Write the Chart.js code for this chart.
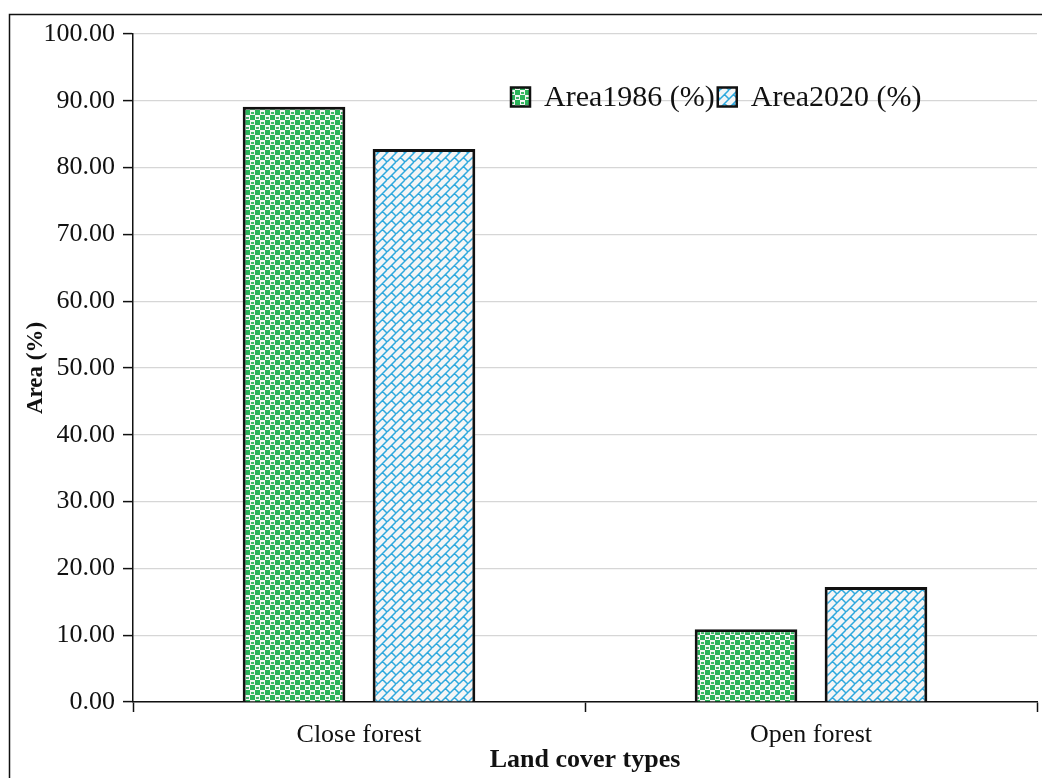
<!DOCTYPE html>
<html>
<head>
<meta charset="utf-8">
<script src="https://cdn.jsdelivr.net/npm/chart.js@4/dist/chart.umd.min.js"></script>
<style>
  html, body { margin: 0; padding: 0; background: #fff; }
  #wrap { width: 1042px; height: 778px; position: relative; }
</style>
</head>
<body>
<div id="wrap"><canvas id="c" width="1042" height="778"></canvas></div>
<script>
// Land cover share by type, 1986 vs 2020
const categories = ['Close forest', 'Open forest'];
const area1986 = [89.1, 10.9];
const area2020 = [82.8, 17.2];
const seriesNames = ['Area1986 (%)', 'Area2020 (%)'];
const yTicks = [0, 10, 20, 30, 40, 50, 60, 70, 80, 90, 100];

const SERIF = '"Liberation Serif", "Times New Roman", serif';
const TEXT = '#111111';

// Green checker fill with small dots in the light cells
function makeGreenPattern() {
  const s = 10;
  const cv = document.createElement('canvas');
  cv.width = s; cv.height = s;
  const g = cv.getContext('2d');
  g.fillStyle = '#2bb35a';
  g.fillRect(0, 0, s, s);
  g.fillStyle = '#f3f5f3';
  g.fillRect(0, 0, 5, 5);
  g.fillRect(5, 5, 5, 5);
  g.fillStyle = '#3dba68';
  g.fillRect(1, 2, 3, 2);
  g.fillRect(6, 7, 3, 2);
  return g.createPattern(cv, 'repeat');
}

// Blue diagonal brick fill
function makeBluePattern() {
  const s = 18;
  const h = s / 2, q = s / 4;
  const cv = document.createElement('canvas');
  cv.width = s; cv.height = s;
  const g = cv.getContext('2d');
  g.fillStyle = '#f4f5f6';
  g.fillRect(0, 0, s, s);
  g.strokeStyle = '#2ea8dd';
  g.lineWidth = 1.5;
  g.beginPath();
  for (let c = -s; c <= 3 * s; c += h) {
    g.moveTo(c, 0);
    g.lineTo(c - s, s);
  }
  const segs = [
    [q, q, h, h], [3 * q, q, s, h], [-q, q, 0, h], [q, -q, h, 0],
    [3 * q, 3 * q, s, s], [-q, 3 * q, 0, s], [3 * q, -q, s, 0], [q, 3 * q, h, s]
  ];
  segs.forEach(([a, b, c, d]) => { g.moveTo(a, b); g.lineTo(c, d); });
  g.stroke();
  return g.createPattern(cv, 'repeat');
}

const greenFill = makeGreenPattern();
const blueFill = makeBluePattern();

// Outer frame
const framePlugin = {
  id: 'frame',
  beforeDraw(chart) {
    const ctx = chart.ctx;
    ctx.save();
    ctx.strokeStyle = '#111';
    ctx.lineWidth = 1.5;
    ctx.beginPath();
    ctx.moveTo(9.5, chart.height + 2);
    ctx.lineTo(9.5, 14.5);
    ctx.lineTo(chart.width + 2, 14.5);
    ctx.stroke();
    ctx.restore();
  }
};

// Inline legend inside the plot area
const legendPlugin = {
  id: 'inlineLegend',
  afterDraw(chart) {
    const ctx = chart.ctx;
    ctx.save();
    ctx.font = '30px ' + SERIF;
    ctx.textBaseline = 'middle';
    let x = 511;
    const yMid = 97;
    const box = 19;
    chart.data.datasets.forEach((ds) => {
      ctx.fillStyle = ds.backgroundColor;
      ctx.fillRect(x, yMid - box / 2, box, box);
      ctx.strokeStyle = '#111';
      ctx.lineWidth = 2.5;
      ctx.strokeRect(x, yMid - box / 2, box, box);
      x += box + 14;
      ctx.fillStyle = TEXT;
      ctx.fillText(ds.label, x, yMid + 1);
      x += ctx.measureText(ds.label).width + 3;
    });
    ctx.restore();
  }
};

new Chart(document.getElementById('c'), {
  type: 'bar',
  data: {
    labels: categories,
    datasets: [
      {
        label: seriesNames[0],
        data: area1986,
        backgroundColor: greenFill,
        borderColor: '#111',
        borderWidth: 3,
        categoryPercentage: 0.575,
        barPercentage: 0.79
      },
      {
        label: seriesNames[1],
        data: area2020,
        backgroundColor: blueFill,
        borderColor: '#111',
        borderWidth: 3,
        categoryPercentage: 0.575,
        barPercentage: 0.79
      }
    ]
  },
  options: {
    responsive: false,
    animation: false,
    layout: { padding: { left: 22, top: 34, right: 5, bottom: 0 } },
    plugins: {
      legend: { display: false },
      tooltip: { enabled: false }
    },
    scales: {
      x: {
        offset: true,
        grid: {
          offset: true,
          drawOnChartArea: false,
          drawTicks: true,
          tickLength: 10,
          tickColor: '#111',
          tickWidth: 1.5
        },
        border: { color: '#111', width: 1.5 },
        ticks: {
          color: TEXT,
          font: { family: SERIF, size: 26 },
          padding: 8
        },
        title: {
          display: true,
          text: 'Land cover types',
          color: TEXT,
          font: { family: SERIF, size: 26, weight: 'bold' },
          padding: { top: 0, bottom: 2 }
        },
        afterFit(scale) { scale.height = 76; }
      },
      y: {
        min: 0,
        max: 100,
        afterBuildTicks(scale) { scale.ticks = yTicks.map(v => ({ value: v })); },
        grid: {
          color: '#d6d6d6',
          lineWidth: 1.2,
          drawTicks: true,
          tickLength: 10,
          tickColor: '#111',
          tickWidth: 1.5
        },
        border: { color: '#111', width: 1.5 },
        ticks: {
          color: TEXT,
          font: { family: SERIF, size: 26 },
          padding: 8,
          callback: (v) => Number(v).toFixed(2)
        },
        title: {
          display: true,
          text: 'Area (%)',
          color: TEXT,
          font: { family: SERIF, size: 23, weight: 'bold' },
          padding: { top: 0, bottom: 0 }
        },
        afterFit(scale) { scale.width = 111; }
      }
    }
  },
  plugins: [framePlugin, legendPlugin]
});
</script>
</body>
</html>
